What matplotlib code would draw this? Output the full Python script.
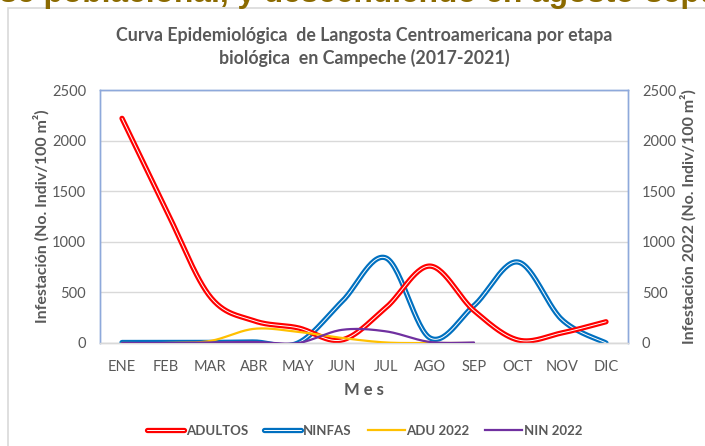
import numpy as np
import matplotlib
matplotlib.use("Agg")
import matplotlib.pyplot as plt
import matplotlib.patheffects as pe
from matplotlib.lines import Line2D

months = ["ENE", "FEB", "MAR", "ABR", "MAY", "JUN", "JUL", "AGO", "SEP", "OCT", "NOV", "DIC"]
adultos = [2220, 1320, 460, 220, 150, 30, 350, 760, 320, 30, 100, 210]
ninfas = [5, 5, 5, 10, 0, 410, 840, 50, 370, 800, 230, 0]
adu_2022 = [0, 0, 20, 140, 110, 50, 5, 0, 0]
nin_2022 = [0, 0, 5, 10, 0, 130, 115, 10, 5]
yticks = [0, 500, 1000, 1500, 2000, 2500]

W, H = 705, 446
fig = plt.figure(figsize=(W / 100, H / 100), dpi=100)
FONT = "Lato"
GRAY = "#595959"


def smooth(y, n=30):
    y = np.asarray(y, dtype=float)
    x = np.arange(len(y), dtype=float)
    P = np.column_stack([x, y])
    out = []
    for i in range(len(P) - 1):
        p0 = P[i - 1] if i > 0 else P[i]
        p1 = P[i]
        p2 = P[i + 1]
        p3 = P[i + 2] if i + 2 < len(P) else P[i + 1]
        c1 = p1 + (p2 - p0) / 6.0
        c2 = p2 - (p3 - p1) / 6.0
        t = np.linspace(0, 1, n, endpoint=(i == len(P) - 2))[:, None]
        seg = ((1 - t) ** 3) * p1 + 3 * ((1 - t) ** 2) * t * c1 + 3 * (1 - t) * t ** 2 * c2 + t ** 3 * p2
        out.append(seg)
    out = np.vstack(out)
    return out[:, 0], out[:, 1]


# chart frame border
fig.patches.append(plt.Rectangle((8 / W, -0.1), 1.2, 1 - 8 / H + 0.1, transform=fig.transFigure,
                                 fill=False, edgecolor="#d9d9d9", lw=1.2))

# cut-off top text
fig.text(-18 / W, 1 - 2 / H, "ase poblacional, y descendiendo en agosto-septiembre",
         fontsize=22.8, fontweight="bold", color="#8B6A00", family="Liberation Sans",
         ha="left", va="baseline")

ax = fig.add_axes([100 / W, 1 - 343 / H, 528 / W, 253 / H])
ax2 = ax.twinx()

for a in (ax, ax2):
    a.set_ylim(0, 2500)
    a.set_xlim(-0.5, 11.5)
    a.set_yticks(yticks)
    a.tick_params(axis="y", length=0, labelsize=10.5, labelcolor=GRAY, pad=10)
    for s in a.spines.values():
        s.set_color("#8EA9DB")
        s.set_linewidth(1.0)
    a.spines["bottom"].set_color("#d9d9d9")
ax.set_yticklabels([str(v) for v in yticks], family=FONT)
ax2.set_yticklabels([str(v) for v in yticks], family=FONT)
ax.set_xticks(range(len(months)))
ax.set_xticklabels(months, family=FONT)
ax.tick_params(axis="x", length=0, labelsize=10.5, labelcolor=GRAY, pad=12)
ax.grid(axis="y", color="#d9d9d9", lw=1.0)
ax.set_axisbelow(True)

OUT_LW, IN_LW = 3.8, 0.7
double = lambda c: [pe.Stroke(linewidth=OUT_LW, foreground=c), pe.Stroke(linewidth=IN_LW, foreground="white")]

xs, ys = smooth(adultos)
ax.plot(xs, ys, color="#FF0000", lw=OUT_LW, solid_capstyle="round",
        path_effects=double("#FF0000"), zorder=4)
xs, ys = smooth(ninfas)
ax.plot(xs, ys, color="#0070C0", lw=OUT_LW, solid_capstyle="round",
        path_effects=double("#0070C0"), zorder=3)
xs, ys = smooth(adu_2022)
ax2.plot(xs, ys, color="#FFC000", lw=1.6, solid_capstyle="round", zorder=3)
xs, ys = smooth(nin_2022)
ax2.plot(xs, ys, color="#7030A0", lw=1.6, solid_capstyle="round", zorder=3)

ax.set_ylabel("Infestación (No. Indiv/100 m²)", family=FONT, fontsize=11.5,
              fontweight="bold", color=GRAY)
ax.yaxis.set_label_coords((50 - 100) / 528, 0.5)
ax2.set_ylabel("Infestación 2022 (No. Indiv/100 m²)", family=FONT, fontsize=11.5,
               fontweight="bold", color=GRAY)
ax2.yaxis.set_label_coords((680 - 100) / 528, 0.5)
ax.set_xlabel("M e s", family=FONT, fontsize=12, fontweight="bold", color=GRAY, labelpad=6)

fig.text(364 / W, 1 - 47 / H,
         "Curva Epidemiológica  de Langosta Centroamericana por etapa\nbiológica  en Campeche (2017-2021)",
         ha="center", va="center", fontsize=12.8, fontweight="bold", color=GRAY,
         family=FONT, linespacing=1.3)

handles = [
    Line2D([], [], color="#FF0000", lw=OUT_LW, solid_capstyle="round", path_effects=double("#FF0000")),
    Line2D([], [], color="#0070C0", lw=OUT_LW, solid_capstyle="round", path_effects=double("#0070C0")),
    Line2D([], [], color="#FFC000", lw=1.6),
    Line2D([], [], color="#7030A0", lw=1.6),
]
leg = fig.legend(handles, ["ADULTOS", "NINFAS", "ADU 2022", "NIN 2022"], loc="center",
                 bbox_to_anchor=(365 / W, 1 - 431 / H), ncol=4, frameon=False,
                 prop={"family": FONT, "weight": "bold", "size": 9.5},
                 handlelength=2.8, handletextpad=0.15, columnspacing=1.2)
for t in leg.get_texts():
    t.set_color(GRAY)

fig.savefig("out.png", dpi=100)
